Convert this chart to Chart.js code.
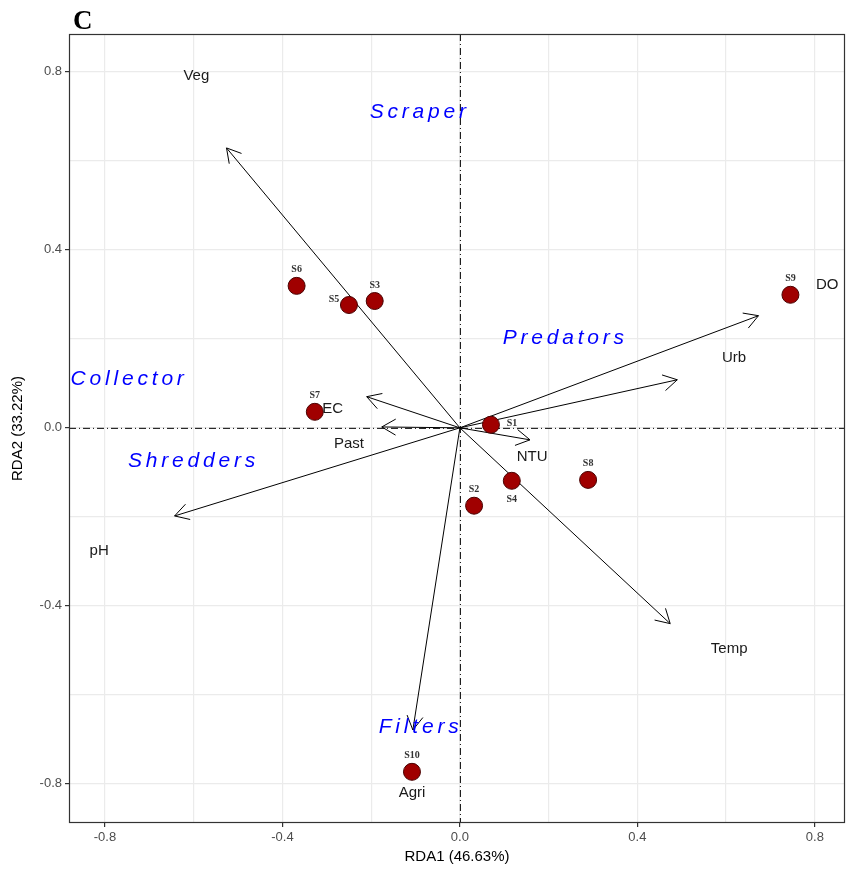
<!DOCTYPE html>
<html>
<head>
<meta charset="utf-8">
<script src="https://cdn.jsdelivr.net/npm/chart.js@4.4.0/dist/chart.umd.min.js"></script>
<style>
  html,body{margin:0;padding:0;background:#fff}
  #wrap{width:846px;height:870px;position:relative}
</style>
</head>
<body>
<div id="wrap"><canvas id="rdaChart"></canvas></div>
<script>
/* ===== Data ===== */
// sampling sites (RDA scores)
const SITES  = ['S1','S2','S3','S4','S5','S6','S7','S8','S9','S10'];
const SITE_X = [0.070, 0.032, -0.192, 0.117, -0.250, -0.368, -0.327, 0.289, 0.745, -0.108];
const SITE_Y = [0.007, -0.175, 0.285, -0.119, 0.276, 0.319, 0.036, -0.117, 0.299, -0.773];

// environmental vectors (arrow tips) and where their labels sit
const ENV     = ['Veg','pH','DO','Urb','EC','Past','NTU','Temp','Agri'];
const ENV_X   = [-0.526, -0.643, 0.673, 0.490, -0.210, -0.176, 0.158, 0.474, -0.106];
const ENV_Y   = [0.629, -0.198, 0.252, 0.108, 0.070, 0.002, -0.027, -0.440, -0.679];
const ENV_LX  = [-0.594, -0.813, 0.828, 0.618, -0.287, -0.250, 0.163, 0.607, -0.108];
const ENV_LY  = [0.790, -0.277, 0.321, 0.157, 0.042, -0.037, -0.065, -0.496, -0.821];

// functional feeding groups
const GUILDS  = ['Scraper','Predators','Collector','Shredders','Filters'];
const GUILD_X = [-0.095, 0.233, -0.750, -0.605, -0.093];
const GUILD_Y = [0.710, 0.202, 0.110, -0.075, -0.672];

const X_RANGE = [-0.881, 0.868];
const Y_RANGE = [-0.888, 0.885];
const X_TITLE = 'RDA1 (46.63%)';
const Y_TITLE = 'RDA2 (33.22%)';
const PANEL   = 'C';

/* ===== Styling helpers ===== */
const TICK_GREY = '#4d4d4d';
const GRID = '#ebebeb';
// label offsets (px) for each site name relative to its point
const siteOffset = {S1:[21,-1], S4:[0,19], S5:[-15,-6]};

const isMajor = v => Math.round(v*5) % 2 === 0;
const fmt = v => (Math.round(v*10)/10).toFixed(1);

const decor = {
  id:'rdaDecor',
  beforeDatasetsDraw(chart){
    const {ctx:c, chartArea:{left,right,top,bottom}, scales:{x,y}} = chart;
    const x0 = x.getPixelForValue(0), y0 = y.getPixelForValue(0);
    c.save();
    c.strokeStyle = '#000';
    c.lineWidth = 1;
    c.setLineDash([7,3,1,3]);
    c.beginPath(); c.moveTo(left,y0+0.5); c.lineTo(right,y0+0.5); c.stroke();
    c.beginPath(); c.moveTo(x0+0.5,top); c.lineTo(x0+0.5,bottom); c.stroke();
    c.restore();
  },
  afterDatasetsDraw(chart){
    const {ctx:c, scales:{x,y}} = chart;
    const x0 = x.getPixelForValue(0), y0 = y.getPixelForValue(0);
    c.save();
    // arrow heads
    c.strokeStyle = '#000';
    c.lineWidth = 1;
    ENV.forEach((n,i) => {
      const tx = x.getPixelForValue(ENV_X[i]), ty = y.getPixelForValue(ENV_Y[i]);
      const a = Math.atan2(ty - y0, tx - x0), L = 16, h = Math.PI/6;
      c.beginPath();
      c.moveTo(tx - L*Math.cos(a-h), ty - L*Math.sin(a-h));
      c.lineTo(tx, ty);
      c.lineTo(tx - L*Math.cos(a+h), ty - L*Math.sin(a+h));
      c.stroke();
    });
    // env labels
    c.fillStyle = '#1a1a1a';
    c.font = '15px "Liberation Sans", Arial, sans-serif';
    c.textAlign = 'center'; c.textBaseline = 'middle';
    ENV.forEach((n,i) => c.fillText(n, x.getPixelForValue(ENV_LX[i]), y.getPixelForValue(ENV_LY[i])));
    // guild labels
    c.fillStyle = '#0000ff';
    c.font = 'italic 21px "Liberation Sans", Arial, sans-serif';
    c.letterSpacing = '3.8px';
    GUILDS.forEach((n,i) => c.fillText(n, x.getPixelForValue(GUILD_X[i]) + 2, y.getPixelForValue(GUILD_Y[i])));
    c.letterSpacing = '0px';
    // site labels
    c.fillStyle = '#333';
    c.font = 'bold 10px "Liberation Serif", "Times New Roman", serif';
    SITES.forEach((n,i) => {
      const [dx,dy] = siteOffset[n] || [0,-16];
      c.fillText(n, x.getPixelForValue(SITE_X[i]) + dx, y.getPixelForValue(SITE_Y[i]) + dy);
    });
    c.restore();
  },
  afterDraw(chart){
    const {ctx:c, chartArea:{left,right,top,bottom}} = chart;
    c.save();
    c.strokeStyle = '#333';
    c.lineWidth = 1.2;
    c.strokeRect(left+0.5, top+0.5, right-left-1, bottom-top-1);
    c.fillStyle = '#000';
    c.font = 'bold 27px "Liberation Serif", "Times New Roman", serif';
    c.textAlign = 'left'; c.textBaseline = 'alphabetic';
    c.fillText(PANEL, 73, 29);
    c.restore();
  }
};

const arrowSets = ENV.map((n,i) => ({
  label:n, type:'line',
  data:[{x:0,y:0},{x:ENV_X[i],y:ENV_Y[i]}],
  borderColor:'#000', borderWidth:1, pointRadius:0, fill:false, order:2
}));

const axisBase = (range, title, titlePad) => ({
  type:'linear', min:range[0], max:range[1],
  grid:{color:GRID, lineWidth:1.2, tickLength:4, drawTicks:true,
        tickColor:ctx => isMajor(ctx.tick.value) ? '#333' : 'rgba(0,0,0,0)'},
  border:{display:false},
  ticks:{stepSize:0.2, includeBounds:false, autoSkip:false, maxRotation:0, padding:3,
         color:TICK_GREY, font:{family:'"Liberation Sans", Arial, sans-serif', size:13},
         callback:v => isMajor(v) ? fmt(v) : ''},
  title:{display:true, text:title, color:'#000', padding:titlePad,
         font:{family:'"Liberation Sans", Arial, sans-serif', size:15}}
});

const xAxis = axisBase(X_RANGE, X_TITLE, {top:0, bottom:4});
xAxis.afterFit = s => { s.height = 47; s.paddingLeft = 0; s.paddingRight = 0; };
const yAxis = axisBase(Y_RANGE, Y_TITLE, {top:9, bottom:0});
yAxis.afterFit = s => { s.width = 69; s.paddingTop = 0; s.paddingBottom = 0; };

new Chart(document.getElementById('rdaChart'), {
  type:'scatter',
  plugins:[decor],
  data:{datasets:[
    ...arrowSets,
    {label:'Sites', type:'scatter',
     data:SITES.map((s,i) => ({x:SITE_X[i], y:SITE_Y[i]})),
     pointRadius:8.5, pointStyle:'circle',
     backgroundColor:'#a00000', borderColor:'#4a0000', borderWidth:1, order:0}
  ]},
  options:{
    responsive:true, maintainAspectRatio:false, animation:false,
    layout:{autoPadding:false, padding:{top:34, right:1, left:0, bottom:0}},
    plugins:{legend:{display:false}, tooltip:{enabled:false}},
    scales:{x:xAxis, y:yAxis}
  }
});
</script>
</body>
</html>
